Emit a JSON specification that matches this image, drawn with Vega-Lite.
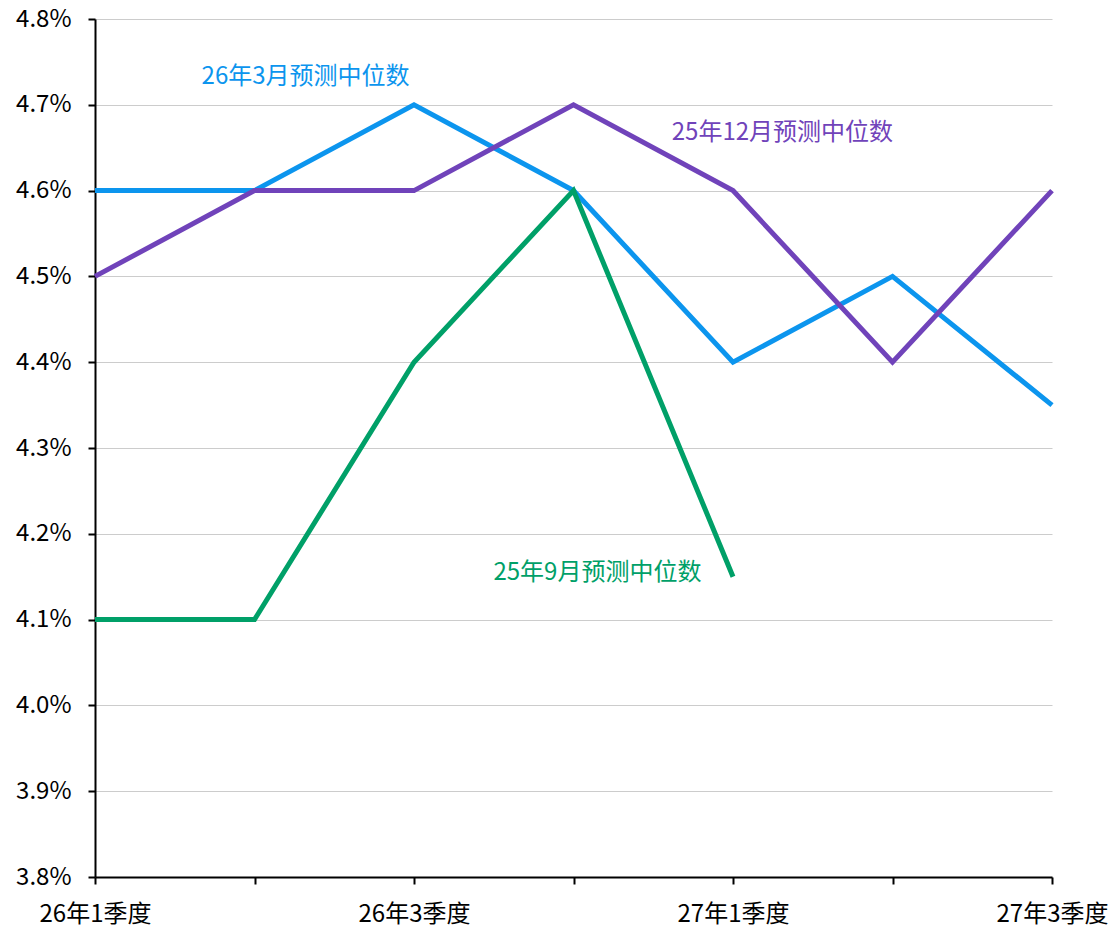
{
  "$schema": "https://vega.github.io/schema/vega-lite/v6.json",
  "width": 957,
  "height": 858,
  "autosize": "none",
  "padding": {"left": 95, "top": 19, "right": 60, "bottom": 53},
  "background": "white",
  "config": {
    "view": {"stroke": null},
    "font": "Noto Sans CJK SC"
  },
  "datasets": {
    "series": [
      {"i": 0, "s": "26年3月预测中位数", "v": 0.046},
      {"i": 1, "s": "26年3月预测中位数", "v": 0.046},
      {"i": 2, "s": "26年3月预测中位数", "v": 0.047},
      {"i": 3, "s": "26年3月预测中位数", "v": 0.046},
      {"i": 4, "s": "26年3月预测中位数", "v": 0.044},
      {"i": 5, "s": "26年3月预测中位数", "v": 0.045},
      {"i": 6, "s": "26年3月预测中位数", "v": 0.0435},
      {"i": 0, "s": "25年12月预测中位数", "v": 0.045},
      {"i": 1, "s": "25年12月预测中位数", "v": 0.046},
      {"i": 2, "s": "25年12月预测中位数", "v": 0.046},
      {"i": 3, "s": "25年12月预测中位数", "v": 0.047},
      {"i": 4, "s": "25年12月预测中位数", "v": 0.046},
      {"i": 5, "s": "25年12月预测中位数", "v": 0.044},
      {"i": 6, "s": "25年12月预测中位数", "v": 0.046},
      {"i": 0, "s": "25年9月预测中位数", "v": 0.041},
      {"i": 1, "s": "25年9月预测中位数", "v": 0.041},
      {"i": 2, "s": "25年9月预测中位数", "v": 0.044},
      {"i": 3, "s": "25年9月预测中位数", "v": 0.046},
      {"i": 4, "s": "25年9月预测中位数", "v": 0.0415}
    ],
    "labels": [
      {"i": 1.32, "s": "26年3月预测中位数", "v": 0.04732},
      {"i": 4.31, "s": "25年12月预测中位数", "v": 0.04667},
      {"i": 3.15, "s": "25年9月预测中位数", "v": 0.04154}
    ]
  },
  "encoding": {
    "x": {
      "field": "i",
      "type": "quantitative",
      "scale": {"domain": [0, 6], "nice": false, "zero": false},
      "axis": {
        "title": null,
        "values": [0, 1, 2, 3, 4, 5, 6],
        "labelExpr": "datum.value == 0 ? '26年1季度' : datum.value == 2 ? '26年3季度' : datum.value == 4 ? '27年1季度' : datum.value == 6 ? '27年3季度' : ''",
        "grid": false,
        "domainColor": "#000000",
        "domainWidth": 2,
        "tickColor": "#000000",
        "tickWidth": 2,
        "tickSize": 7,
        "labelFontSize": 24,
        "labelColor": "#000000",
        "labelPadding": 18,
        "labelFlush": false,
        "labelOverlap": false
      }
    },
    "y": {
      "field": "v",
      "type": "quantitative",
      "scale": {"domain": [0.038, 0.048], "nice": false, "zero": false},
      "axis": {
        "title": null,
        "values": [0.038, 0.039, 0.040, 0.041, 0.042, 0.043, 0.044, 0.045, 0.046, 0.047, 0.048],
        "format": ".1%",
        "grid": true,
        "gridColor": "#CCCCCC",
        "gridWidth": 1,
        "domainColor": "#000000",
        "domainWidth": 2,
        "tickColor": "#000000",
        "tickWidth": 2,
        "tickSize": 7,
        "labelFontSize": 24,
        "labelColor": "#000000",
        "labelPadding": 17,
        "labelOverlap": false
      }
    },
    "color": {
      "field": "s",
      "type": "nominal",
      "scale": {
        "domain": ["26年3月预测中位数", "25年12月预测中位数", "25年9月预测中位数"],
        "range": ["#0C95EE", "#7043BA", "#00A068"]
      },
      "legend": null
    }
  },
  "layer": [
    {
      "data": {"name": "series"},
      "mark": {"type": "line", "strokeWidth": 5, "strokeJoin": "miter", "strokeCap": "butt"}
    },
    {
      "data": {"name": "labels"},
      "mark": {"type": "text", "fontSize": 24, "align": "center", "baseline": "middle"},
      "encoding": {"text": {"field": "s"}}
    }
  ]
}
